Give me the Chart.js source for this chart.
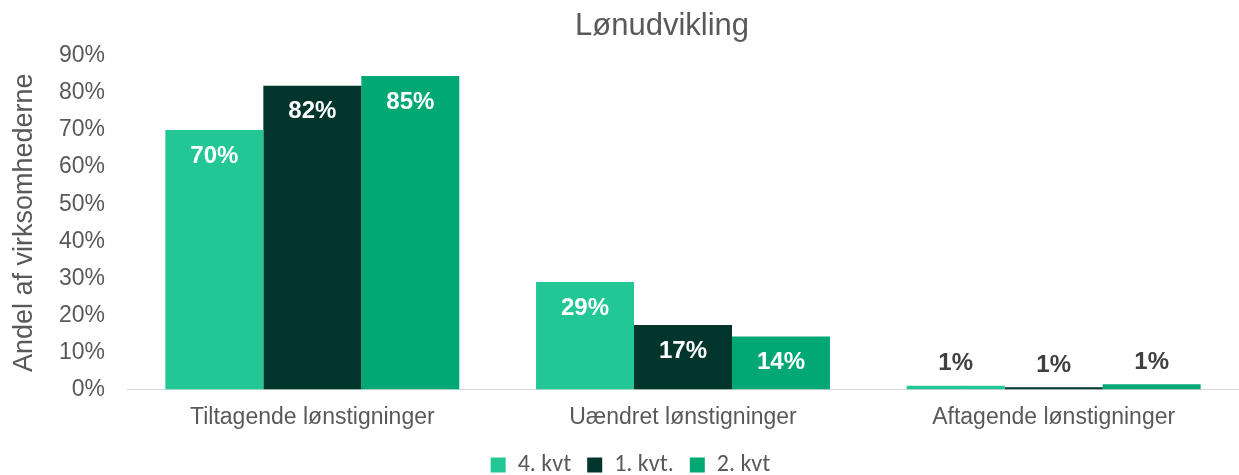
<!DOCTYPE html>
<html>
<head>
<meta charset="utf-8">
<script src="https://cdn.jsdelivr.net/npm/chart.js@4"></script>
<style>
html,body{margin:0;padding:0;background:#fff;overflow:hidden;}
#wrap{width:1239px;height:475px;}
</style>
</head>
<body>
<div id="wrap"><canvas id="c"></canvas></div>
<script>
const categories = ["Tiltagende lønstigninger", "Uændret lønstigninger", "Aftagende lønstigninger"];
const seriesNames = ["4. kvt", "1. kvt.", "2. kvt"];
const q4 = [70, 29, 1.0];
const q1 = [82, 17.4, 0.6];
const q2 = [84.6, 14.3, 1.4];
const yTicks = [0, 10, 20, 30, 40, 50, 60, 70, 80, 90];
const chartTitle = "Lønudvikling";
const colors = ["#22C795", "#02352B", "#02A874"];
const FONT = '"Liberation Sans", Arial, sans-serif';

const labelPlugin = {
  id: 'valLabels',
  afterDatasetsDraw(chart) {
    const ctx = chart.ctx;
    ctx.save();
    ctx.font = 'bold 24px ' + FONT;
    ctx.textAlign = 'center';
    ctx.textBaseline = 'middle';
    chart.data.datasets.forEach((ds, di) => {
      const meta = chart.getDatasetMeta(di);
      meta.data.forEach((bar, i) => {
        const v = ds.data[i];
        const txt = Math.round(v) + '%';
        if (v > 5) {
          ctx.fillStyle = '#ffffff';
          ctx.fillText(txt, bar.x, bar.y + 26);
        } else {
          ctx.fillStyle = '#404040';
          ctx.fillText(txt, bar.x, bar.y - 22);
        }
      });
    });
    ctx.restore();
  }
};

const titlePlugin = {
  id: 'customTitle',
  afterDraw(chart) {
    const ctx = chart.ctx;
    ctx.save();
    ctx.font = '31px ' + FONT;
    ctx.fillStyle = '#595959';
    ctx.textAlign = 'center';
    ctx.textBaseline = 'middle';
    ctx.fillText(chartTitle, 662, 26);
    ctx.restore();
  }
};

const legendFitPlugin = {
  id: 'legendFit',
  beforeInit(chart) {
    const lg = chart.legend;
    if (!lg) return;
    const orig = lg.fit;
    lg.fit = function () {
      orig.call(this);
      this.height = 30;
    };
  },
  afterLayout(chart) {
    const lg = chart.legend;
    if (!lg) return;
    lg.top -= 8;
    lg.bottom = chart.height;
    lg.height = lg.bottom - lg.top;
    lg.left += 11; lg.right += 11;
  }
};

new Chart(document.getElementById('c'), {
  type: 'bar',
  data: {
    labels: categories,
    datasets: [q4, q1, q2].map((d, k) => ({
      label: seriesNames[k],
      data: d,
      backgroundColor: colors[k],
      borderWidth: 0,
      categoryPercentage: 0.793,
      barPercentage: 1.0
    }))
  },
  options: {
    responsive: true,
    maintainAspectRatio: false,
    animation: false,
    layout: { padding: { left: 0, right: 0, top: 56, bottom: 0 } },
    plugins: {
      title: { display: false },
      legend: {
        position: 'bottom',
        labels: {
          color: '#595959',
          font: { family: 'Carlito, "Open Sans", sans-serif', size: 24 },
          boxWidth: 15, boxHeight: 15, padding: 16
        }
      },
      tooltip: { enabled: false }
    },
    scales: {
      x: {
        grid: { display: false, drawTicks: false },
        border: { display: true, color: '#d9d9d9', width: 1 },
        ticks: {
          color: '#595959',
          font: { family: FONT, size: 23 },
          padding: 14
        }
      },
      y: {
        min: 0, max: 90,
        afterBuildTicks(s) { s.ticks = yTicks.map(v => ({ value: v })); },
        afterFit(s) { s.width = 127; },
        grid: { display: false, drawTicks: false },
        border: { display: false },
        ticks: {
          color: '#595959',
          font: { family: FONT, size: 23 },
          padding: 22,
          callback: v => v + '%'
        },
        title: {
          display: true,
          text: 'Andel af virksomhederne',
          color: '#595959',
          font: { family: FONT, size: 27 },
          padding: { top: 8, bottom: 0 }
        }
      }
    }
  },
  plugins: [legendFitPlugin, labelPlugin, titlePlugin]
});
</script>
</body>
</html>
